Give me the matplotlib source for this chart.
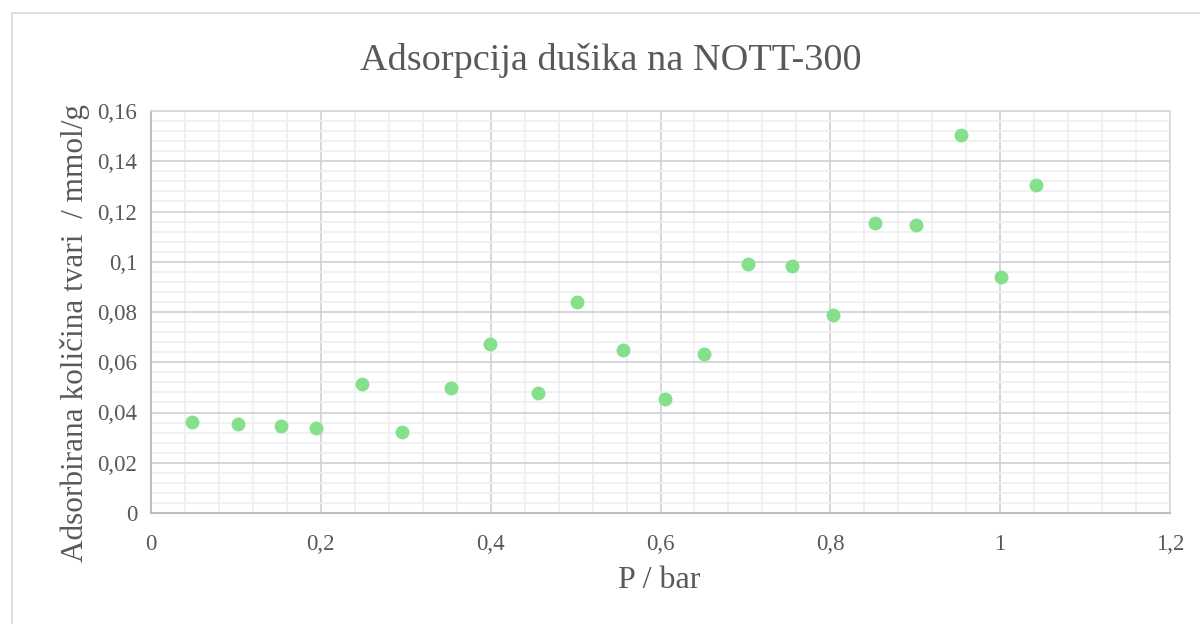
import matplotlib
matplotlib.use("Agg")
import matplotlib.pyplot as plt
from matplotlib.ticker import MultipleLocator, FuncFormatter
from matplotlib.patches import Rectangle

pressure = [0.048, 0.102, 0.153, 0.194, 0.248, 0.296, 0.353, 0.399, 0.456, 0.502,
            0.556, 0.605, 0.651, 0.703, 0.755, 0.803, 0.853, 0.901, 0.954, 1.001, 1.042]
adsorbed = [0.0362, 0.0354, 0.0346, 0.0338, 0.0513, 0.0322, 0.0498, 0.0673, 0.0478, 0.0840,
            0.0649, 0.0454, 0.0633, 0.0991, 0.0983, 0.0788, 0.1154, 0.1146, 0.1504, 0.0939, 0.1305]

title = "Adsorpcija dušika na NOTT-300"
xlabel = "P / bar"
ylabel = "Adsorbirana količina tvari  / mmol/g"

plt.rcParams['font.family'] = ['Liberation Serif', 'DejaVu Serif']

fig = plt.figure(figsize=(12, 6.24), dpi=100)
W, H = 1200, 624
ax = fig.add_axes([151 / W, 1 - 513 / H, (1170 - 151) / W, (513 - 111) / H])

fig.patches.append(Rectangle((12 / W, -0.05), 1.2, 1 - 13 / H + 0.05, transform=fig.transFigure,
                             fill=False, edgecolor='#d9d9d9', linewidth=1.2))

ax.scatter(pressure, adsorbed, s=100, color='#85e08e', zorder=3, linewidths=0)

ax.set_xlim(0, 1.2)
ax.set_ylim(0, 0.16)
ax.xaxis.set_major_locator(MultipleLocator(0.2))
ax.xaxis.set_minor_locator(MultipleLocator(0.04))
ax.yaxis.set_major_locator(MultipleLocator(0.02))
ax.yaxis.set_minor_locator(MultipleLocator(0.004))

def fmt(v, pos):
    s = f"{v:.3f}".rstrip('0').rstrip('.')
    return s.replace('.', ',')

ax.xaxis.set_major_formatter(FuncFormatter(fmt))
ax.yaxis.set_major_formatter(FuncFormatter(fmt))

ax.grid(which='major', color='#d0d0d0', linewidth=1.2)
ax.grid(which='minor', color='#efefef', linewidth=1.2)
ax.set_axisbelow(True)
ax.tick_params(which='both', length=0, labelsize=16.5, labelcolor='#595959')
ax.tick_params(axis='x', pad=15)
ax.tick_params(axis='y', pad=10)

for side in ['top', 'right']:
    ax.spines[side].set_color('#d9d9d9')
    ax.spines[side].set_linewidth(1.2)
for side in ['left', 'bottom']:
    ax.spines[side].set_color('#bfbfbf')
    ax.spines[side].set_linewidth(1.5)

fig.text(611 / W, 1 - 60 / H, title, ha='center', va='center', fontsize=27.5, color='#595959')
fig.text(659 / W, 1 - 580 / H, xlabel, ha='center', va='center', fontsize=23, color='#595959')
fig.text(75 / W, 1 - 333 / H, ylabel, ha='center', va='center', rotation=90,
         fontsize=22.5, color='#595959')

fig.savefig("out.png", dpi=100, facecolor='white')
